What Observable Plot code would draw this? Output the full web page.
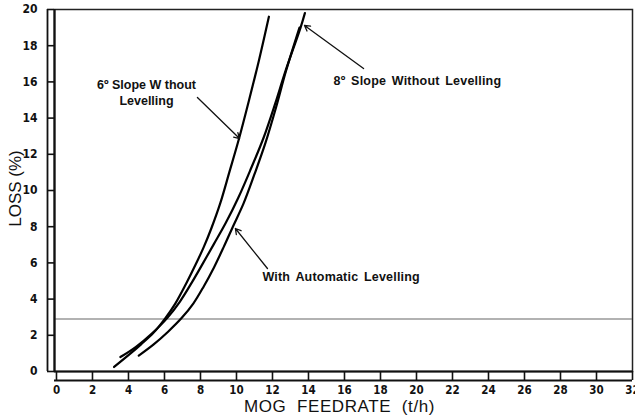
<!DOCTYPE html>
<html><head><meta charset="utf-8">
<script src="https://cdn.jsdelivr.net/npm/d3@7"></script>
<script src="https://cdn.jsdelivr.net/npm/@observablehq/plot@0.6"></script>
<style>
html,body{margin:0;padding:0;background:#fff;}
#chart svg{display:block;}
</style></head><body><div id="chart"></div>
<script>
// Tick values
const xTicks = [0, 2, 4, 6, 8, 10, 12, 14, 16, 18, 20, 22, 24, 26, 28, 30, 32];
const yTicks = [0, 2, 4, 6, 8, 10, 12, 14, 16, 18, 20];
const refLoss = 2.9;

// 6° slope without levelling
const feed6 = [3.2, 4.0, 4.7, 5.4, 6.05, 6.6, 7.2, 7.75, 8.18, 8.6, 9.1, 9.6, 10.15, 10.7, 11.25, 11.8];
const loss6 = [0.25, 0.9, 1.5, 2.15, 2.95, 3.75, 4.85, 5.95, 6.87, 7.9, 9.3, 11.0, 12.9, 15.0, 17.2, 19.6];

// 8° slope without levelling
const feed8 = [3.55, 4.4, 5.3, 6.15, 6.85, 7.54, 8.15, 8.75, 9.4, 10.1, 10.8, 11.5, 12.15, 12.72, 13.56, 13.8];
const loss8 = [0.8, 1.35, 2.1, 2.95, 3.85, 4.95, 6.0, 7.05, 8.2, 9.6, 11.2, 12.9, 14.8, 16.6, 19.0, 19.8];

// With automatic levelling
const feedAuto = [4.57, 5.4, 6.2, 6.95, 7.6, 8.18, 8.75, 9.3, 9.8, 10.4, 11.0, 11.6, 12.2, 12.75, 13.5];
const lossAuto = [0.88, 1.5, 2.2, 2.95, 3.75, 4.7, 5.75, 6.9, 8.0, 9.3, 10.9, 12.6, 14.6, 16.6, 19.0];

// Annotations
const noteText = ["6º Slope W thout\nLevelling", "8º Slope Without Levelling", "With Automatic Levelling"];
const noteX = [5.0, 15.39, 11.44];
const noteY = [15.44, 16.13, 5.25];
const arrowX1 = [7.83, 17.06, 11.72];
const arrowY1 = [15.14, 16.74, 5.69];
const arrowX2 = [10.17, 13.78, 9.94];
const arrowY2 = [12.87, 19.12, 7.9];

const xTitle = "MOG  FEEDRATE  (t/h)";
const yTitle = "LOSS (%)";

const series = [
  {name: "6º slope", feed: feed6, loss: loss6},
  {name: "8º slope", feed: feed8, loss: loss8},
  {name: "auto", feed: feedAuto, loss: lossAuto}
];
const lineData = series.flatMap(s => s.feed.map((f, i) => ({series: s.name, feed: f, loss: s.loss[i]})));
const notes = noteText.map((t, i) => ({text: t, x: noteX[i], y: noteY[i], centered: i === 0}));
const arrows = arrowX1.map((d, i) => ({x1: d, y1: arrowY1[i], x2: arrowX2[i], y2: arrowY2[i]}));

const x0 = -0.11;
const tickFont = "'Liberation Sans Narrow', 'DejaVu Sans Condensed', Arial, sans-serif";
const textFont = "'Liberation Sans', Arial, Helvetica, sans-serif";
const noteStyle = {x: "x", y: "y", text: "text", fontSize: 12.5, fontWeight: "bold", lineHeight: 1.25, fill: "#111"};

const chart = Plot.plot({
  width: 635,
  height: 415,
  marginLeft: 54,
  marginRight: 3,
  marginTop: 9,
  marginBottom: 44,
  x: {domain: [x0, 32]},
  y: {domain: [0, 20]},
  style: {background: "#fff", color: "#111", fontFamily: textFont},
  marks: [
    Plot.frame({stroke: "#222", strokeWidth: 1.5}),
    Plot.ruleY([refLoss], {stroke: "#666", strokeWidth: 1.2}),
    // double-line "ruler" axes
    Plot.ruleX([x0], {stroke: "#111", strokeWidth: 2.2}),
    Plot.ruleX([x0], {dx: -7, stroke: "#111", strokeWidth: 1.8}),
    Plot.ruleY([0], {stroke: "#111", strokeWidth: 2.2}),
    Plot.ruleY([0], {dy: 9, stroke: "#111", strokeWidth: 1.9}),
    Plot.axisY(yTicks, {
      tickSize: 7, tickPadding: 10, strokeWidth: 1.6, label: null,
      fontSize: 12, fontWeight: "bold", fontFamily: tickFont
    }),
    Plot.axisX(xTicks, {
      tickSize: 9, tickPadding: 5, strokeWidth: 1.6, label: null,
      fontSize: 11.5, fontWeight: "bold", fontFamily: tickFont
    }),
    Plot.text([xTitle], {frameAnchor: "bottom", textAnchor: "middle", lineAnchor: "middle", dy: 35, dx: -4, fontSize: 17, fill: "#111"}),
    Plot.text([yTitle], {frameAnchor: "left", textAnchor: "middle", lineAnchor: "middle", dx: -39, dy: -2, rotate: -90, fontSize: 17, fill: "#111"}),
    Plot.line(lineData, {x: "feed", y: "loss", z: "series", curve: "catmull-rom", stroke: "#000", strokeWidth: 2.2}),
    Plot.arrow(arrows, {x1: "x1", y1: "y1", x2: "x2", y2: "y2", stroke: "#111", strokeWidth: 1.3, headLength: 7}),
    Plot.text(notes.filter(d => d.centered), {...noteStyle, textAnchor: "middle"}),
    Plot.text(notes.filter(d => !d.centered), {...noteStyle, textAnchor: "start"})
  ]
});

// widen letter spacing of the typewriter-like labels
d3.select(chart).selectAll("text").each(function () {
  const t = this.textContent;
  if (t === xTitle) d3.select(this).style("letter-spacing", "0.6px");
  if (t === noteText[1] || t === noteText[2]) d3.select(this).style("letter-spacing", "0.2px").style("word-spacing", "2px");
});

document.getElementById("chart").appendChild(chart);
</script>
</body></html>
